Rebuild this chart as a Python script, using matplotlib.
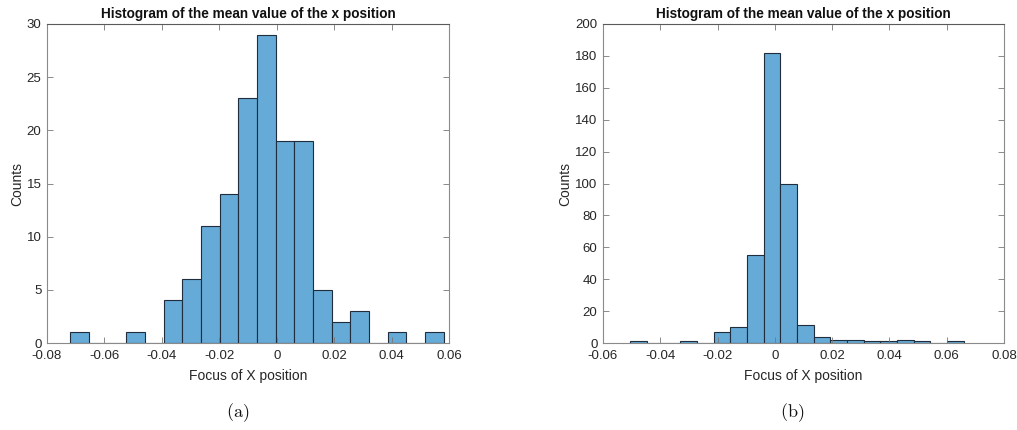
import numpy as np
import matplotlib
matplotlib.use("Agg")
import matplotlib.pyplot as plt

plt.rcParams['font.family'] = ['Liberation Sans', 'DejaVu Sans']
plt.rcParams['mathtext.fontset'] = 'cm'

# Panel (a)
a_start = -0.0719
a_width = 0.0065
a_counts = [1, 0, 0, 1, 0, 4, 6, 11, 14, 23, 29, 19, 19, 5, 2, 3, 0, 1, 0, 1]
a_xticks = [-0.08, -0.06, -0.04, -0.02, 0, 0.02, 0.04, 0.06]
a_xticklabels = ['-0.08', '-0.06', '-0.04', '-0.02', '0', '0.02', '0.04', '0.06']
a_yticks = [0, 5, 10, 15, 20, 25, 30]

# Panel (b)
b_start = -0.0505
b_width = 0.00582
b_counts = [1, 0, 0, 1, 0, 7, 10, 55, 182, 100, 11, 4, 2, 2, 1, 1, 2, 1, 0, 1]
b_xticks = [-0.06, -0.04, -0.02, 0, 0.02, 0.04, 0.06, 0.08]
b_xticklabels = ['-0.06', '-0.04', '-0.02', '0', '0.02', '0.04', '0.06', '0.08']
b_yticks = [0, 20, 40, 60, 80, 100, 120, 140, 160, 180, 200]

title = 'Histogram of the mean value of the x position'
xlabel = 'Focus of X position'
ylabel = 'Counts'

W, H = 1017, 430
fig = plt.figure(figsize=(W / 100, H / 100), dpi=100)

face = '#66AAD7'
edge = '#1f2d3d'
spine_col = '#8a8a8a'
txt = '#262626'

def panel(rect, start, width, counts, xticks, xticklabels, yticks, xlim, ylim, caption, cap_x):
    l, b, r, t = rect
    ax = fig.add_axes([l / W, 1 - b / H, (r - l) / W, (b - t) / H])
    n = len(counts)
    lefts = start + width * np.arange(n)
    ax.bar(lefts, counts, width=width, align='edge', color=face, edgecolor=edge, linewidth=0.8)
    ax.set_xlim(*xlim)
    ax.set_ylim(*ylim)
    ax.set_xticks(xticks)
    ax.set_xticklabels(xticklabels)
    ax.set_yticks(yticks)
    ax.tick_params(direction='in', top=True, right=True, length=4, width=0.6,
                   colors=txt, labelsize=9.5)
    ax.tick_params(axis='x', pad=5)
    ax.tick_params(axis='y', pad=4)
    ax.tick_params(axis='both', color='#777777')
    for s in ax.spines.values():
        s.set_color(spine_col)
        s.set_linewidth(0.8)
    ax.spines['top'].set_color('#5a5a5a')
    ax.set_title(title, fontsize=9.8, fontweight='bold', color='#111111', pad=4)
    ax.set_xlabel(xlabel, fontsize=10, color=txt, labelpad=5)
    ax.set_ylabel(ylabel, fontsize=10, color=txt, labelpad=2)
    fig.text(cap_x / W, 1 - 413 / H, r'$\mathrm{(%s)}$' % caption, fontsize=13,
             ha='center', va='center', color='#111111')
    return ax

panel((47, 343, 449, 24), a_start, a_width, a_counts, a_xticks, a_xticklabels, a_yticks,
      (-0.08, 0.06), (0, 30), 'a', 238)
panel((603, 343, 1004, 24), b_start, b_width, b_counts, b_xticks, b_xticklabels, b_yticks,
      (-0.06, 0.08), (0, 200), 'b', 792)

fig.savefig('out.png', dpi=100)
